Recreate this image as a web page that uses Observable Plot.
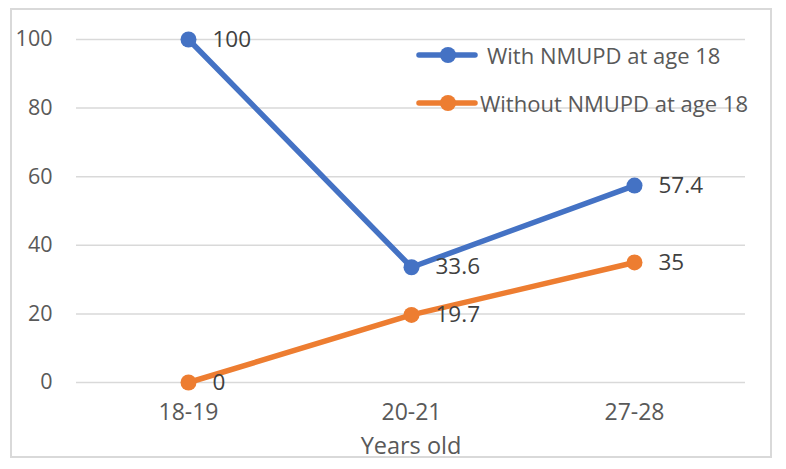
<!DOCTYPE html>
<html>
<head>
<meta charset="utf-8">
<script src="https://cdn.jsdelivr.net/npm/d3@7"></script>
<script src="https://cdn.jsdelivr.net/npm/@observablehq/plot@0.6"></script>
<style>
  html, body { margin: 0; padding: 0; background: #fff; }
  #wrap { position: relative; width: 786px; height: 469px; overflow: hidden; font-family: "Open Sans", sans-serif; }
  #border { position: absolute; left: 10px; top: 8px; width: 758px; height: 446px; border: 2px solid #d9d9d9; }
  #chart { position: absolute; left: 0; top: 0; }
  .leg { position: absolute; display: flex; align-items: center; font-size: 22px; color: #595959; }
</style>
</head>
<body>
<div id="wrap">
  <div id="border"></div>
  <div id="chart"></div>
  <div id="legend"></div>
</div>
<script>
const categories = ["18-19", "20-21", "27-28"];
const seriesNames = ["With NMUPD at age 18", "Without NMUPD at age 18"];
const withValues = [100, 33.6, 57.4];
const withoutValues = [0, 19.7, 35];
const yTicks = [0, 20, 40, 60, 80, 100];
const colors = ["#4472C4", "#ED7D31"];

const data = [
  ...categories.map((c, i) => ({cat: c, value: withValues[i], series: seriesNames[0]})),
  ...categories.map((c, i) => ({cat: c, value: withoutValues[i], series: seriesNames[1]}))
];

const font = "'Open Sans', sans-serif";
const plot = Plot.plot({
  width: 786,
  height: 469,
  marginLeft: 76,
  marginRight: 41,
  marginTop: 39,
  marginBottom: 87,
  style: {fontFamily: font, background: "transparent", color: "#595959"},
  x: {type: "point", domain: categories, padding: 0.5, label: null},
  y: {domain: [0, 100], ticks: yTicks, label: null},
  color: {domain: seriesNames, range: colors},
  marks: [
    Plot.gridY(yTicks, {stroke: "#d9d9d9", strokeOpacity: 1, strokeWidth: 1.5}),
    Plot.axisY(yTicks, {tickSize: 0, tickPadding: 24, fontSize: 21.5, fill: "#595959", tickFormat: d => String(d)}),
    Plot.axisX({tickSize: 0, tickPadding: 21, fontSize: 23, fill: "#595959", label: null}),
    Plot.text(["Years old"], {frameAnchor: "bottom", lineAnchor: "middle", dy: 64, fontSize: 23.5, fill: "#595959"}),
    Plot.line(data, {x: "cat", y: "value", z: "series", stroke: "series", strokeWidth: 5.5, strokeLinecap: "round"}),
    Plot.dot(data, {x: "cat", y: "value", fill: "series", r: 8}),
    Plot.text(data, {x: "cat", y: "value", text: d => String(d.value), textAnchor: "start", dx: 24, fontSize: 22.5, fill: "#404040"})
  ]
});
document.getElementById("chart").appendChild(plot);

// legend
const leg = document.getElementById("legend");
const legTops = [55, 103];
const legTextGap = [9, 2];
seriesNames.forEach((name, i) => {
  const row = document.createElement("div");
  row.className = "leg";
  row.style.left = "416px";
  row.style.top = (legTops[i] - 14) + "px";
  row.style.height = "28px";
  row.innerHTML = `<svg width="62" height="28" style="display:block"><line x1="3" x2="59" y1="14" y2="14" stroke="${colors[i]}" stroke-width="5.5" stroke-linecap="round"/><circle cx="32" cy="14" r="8" fill="${colors[i]}"/></svg><span style="margin-left:${legTextGap[i]}px;white-space:nowrap">${name}</span>`;
  leg.appendChild(row);
});
</script>
</body>
</html>
